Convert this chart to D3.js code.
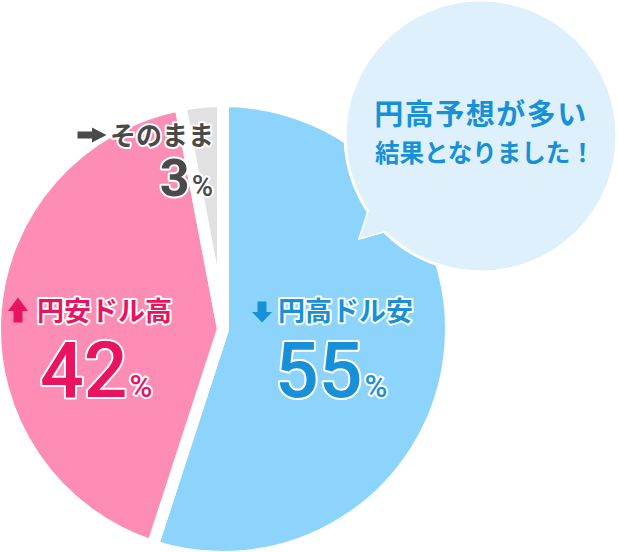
<!DOCTYPE html>
<html>
<head>
<meta charset="utf-8">
<script src="https://cdn.jsdelivr.net/npm/d3@7"></script>
<style>
  html, body { margin: 0; padding: 0; background: #fff; }
  svg { display: block; }
  text { font-family: "Noto Sans CJK JP", "Noto Sans", sans-serif; }
  .num { font-family: Roboto, "Noto Sans", sans-serif; }
</style>
</head>
<body>
<svg id="chart"></svg>
<script>
// datos del gráfico
const categories = ['円高ドル安', '円安ドル高', 'そのまま'];
const values = [55, 42, 3];
const arrows = ['down', 'up', 'right'];
const bubbleLines = ['円高予想が多い', '結果となりました！'];

const sliceColors = ['#8dd4fd', '#fd8db4', '#e1e1e1'];
const textColors = ['#1890d8', '#e8145f', '#4a4a4a'];

const width = 618;
const height = 552;
const cx = 223, cy = 329;
const radius = 228;

const svg = d3.select('#chart')
  .attr('width', width)
  .attr('height', height);

// pie
const pie = d3.pie().sort(null).value(d => d);
const arc = d3.arc().innerRadius(0).outerRadius(radius);
const arcs = pie(values);

const g = svg.append('g').attr('transform', `translate(${cx},${cy})`);

g.selectAll('path.slice')
  .data(arcs)
  .enter()
  .append('path')
  .attr('class', 'slice')
  .attr('d', arc)
  .attr('fill', (d, i) => sliceColors[i])
  .attr('stroke', '#fff')
  .attr('stroke-width', 12)
  .attr('stroke-linejoin', 'miter');

// bocadillo
const bx = 481, by = 136, br = 136;
const tailA = -2.57, tailB = -2.35;   // angulos de la base de la cola
const tail = [
  [bx + (br - 4) * Math.cos(tailA), by - (br - 4) * Math.sin(tailA)],
  [360, 238],
  [bx + (br - 4) * Math.cos(tailB), by - (br - 4) * Math.sin(tailB)]
];
const bubble = svg.append('g');
bubble.append('path')
  .attr('d', d3.line()(tail) + 'Z')
  .attr('fill', '#ddf0fc')
  .attr('stroke', '#fff')
  .attr('stroke-width', 3)
  .attr('stroke-linejoin', 'miter');
bubble.append('circle')
  .attr('cx', bx).attr('cy', by).attr('r', br)
  .attr('fill', '#ddf0fc')
  .attr('stroke', '#fff')
  .attr('stroke-width', 3);
bubble.append('path')
  .attr('d', d3.line()(tail) + 'Z')
  .attr('fill', '#ddf0fc');

bubble.append('text')
  .attr('x', bx).attr('y', 125)
  .attr('text-anchor', 'middle')
  .attr('font-size', 29)
  .attr('font-weight', 700)
  .attr('letter-spacing', 1.5)
  .attr('fill', '#1890d8')
  .text(bubbleLines[0]);
bubble.append('text')
  .attr('x', bx + 4).attr('y', 162)
  .attr('text-anchor', 'middle')
  .attr('font-size', 24.5)
  .attr('font-weight', 700)
  .attr('fill', '#1890d8')
  .text(bubbleLines[1]);

// etiquetas
const labelPos = [
  { nx: 278, ny: 321, ax: 262, ay: 312, px: 275, py: 397, big: 77, pct: 31, anchor: 'start', size: 27 },
  { nx: 37, ny: 321, ax: 18, ay: 310, px: 40, py: 397, big: 77, pct: 31, anchor: 'start', size: 27 },
  { nx: 110, ny: 145, ax: 92, ay: 135, px: 213, py: 196, big: 52, pct: 29, anchor: 'end', size: 26 }
];

const arrowShape = {
  down: 'M-4.5,-10.5 L4.5,-10.5 L4.5,0 L10,0 L0,10.5 L-10,0 L-4.5,0 Z',
  up: 'M-4.5,12.5 L4.5,12.5 L4.5,1 L10,1 L0,-12.5 L-10,1 L-4.5,1 Z',
  right: 'M-14.5,-3.5 L0,-3.5 L0,-7.5 L14.5,0 L0,7.5 L0,3.5 L-14.5,3.5 Z'
};

const labels = svg.append('g');
arcs.forEach((a, i) => {
  const p = labelPos[i];
  labels.append('path')
    .attr('d', arrowShape[arrows[i]])
    .attr('transform', `translate(${p.ax},${p.ay})`)
    .attr('fill', textColors[i]);

  labels.append('text')
    .attr('x', p.nx).attr('y', p.ny)
    .attr('font-size', p.size)
    .attr('font-weight', 700)
    .attr('fill', textColors[i])
    .attr('stroke', '#fff')
    .attr('stroke-width', 4)
    .attr('stroke-linejoin', 'round')
    .attr('paint-order', 'stroke')
    .text(categories[i]);

  const t = labels.append('text')
    .attr('class', 'num')
    .attr('x', p.px).attr('y', p.py)
    .attr('text-anchor', p.anchor)
    .attr('fill', textColors[i])
    .attr('stroke', '#fff')
    .attr('stroke-width', 4)
    .attr('stroke-linejoin', 'round')
    .attr('paint-order', 'stroke');
  t.append('tspan')
    .attr('font-size', p.big)
    .attr('font-weight', i === 2 ? 700 : 500)
    .text(a.data);
  t.append('tspan')
    .attr('font-size', p.pct)
    .attr('font-weight', 500)
    .attr('dx', 2)
    .text('%');
});
</script>
</body>
</html>
